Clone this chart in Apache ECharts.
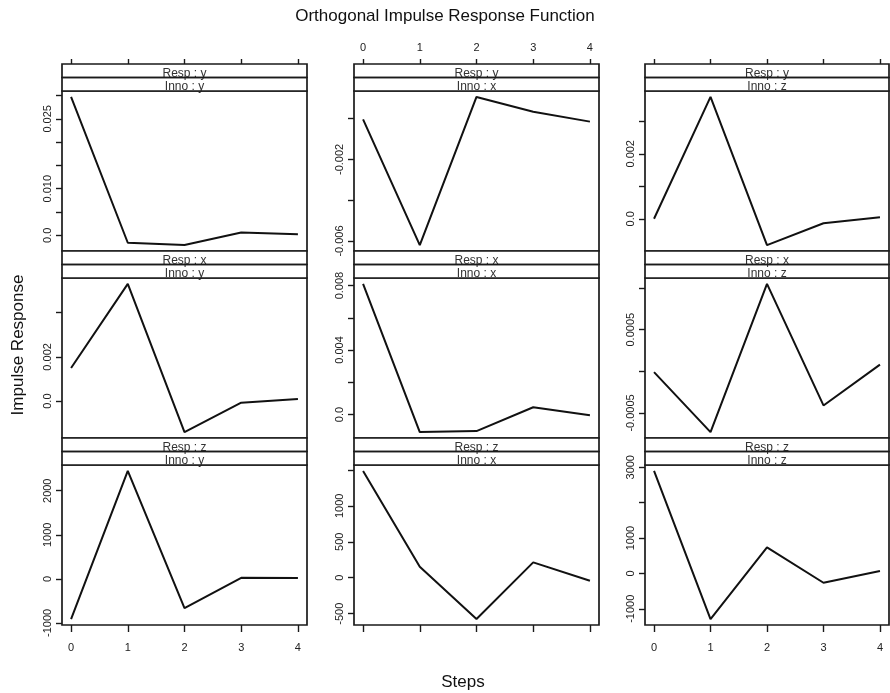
<!DOCTYPE html>
<html>
<head>
<meta charset="utf-8">
<script src="https://cdn.jsdelivr.net/npm/echarts@6/dist/echarts.min.js"></script>
<style>
  html, body { margin: 0; padding: 0; background: #fff; }
  #chart { width: 890px; height: 693px; }
</style>
</head>
<body>
<div id="chart"></div>
<script>
// steps on the x axis
const steps = [0, 1, 2, 3, 4];

// impulse responses, named resp_inno
const yy = [0.0297, -0.0016, -0.0021, 0.0006, 0.0002];
const yx = [-0.00004, -0.0062, 0.00106, 0.00033, -0.00015];
const yz = [0.0, 0.00375, -0.00081, -0.00014, 0.00005];
const xy = [0.0015, 0.0053, -0.0014, -0.00007, 0.0001];
const xx = [0.0081, -0.00109, -0.00103, 0.00045, -0.00004];
const xz = [-0.00001, -0.00073, 0.00105, -0.00041, 0.00008];
const zy = [-913, 2450, -662, 23, 20];
const zx = [1486, 153, -575, 214, -42];
const zz = [2896, -1291, 734, -265, 65];

// y tick marks per panel
const ticksYY = [0, 0.005, 0.01, 0.015, 0.02, 0.025, 0.03];
const ticksYX = [-0.006, -0.004, -0.002, 0];
const ticksYZ = [0, 0.001, 0.002, 0.003];
const ticksXY = [0, 0.002, 0.004];
const ticksXX = [0, 0.002, 0.004, 0.006, 0.008];
const ticksXZ = [-0.0005, 0, 0.0005, 0.001];
const ticksZY = [-1000, 0, 1000, 2000];
const ticksZX = [-500, 0, 500, 1000, 1500];
const ticksZZ = [-1000, 0, 1000, 2000, 3000];

// labelled y ticks and their text
const labValYY = [0, 0.01, 0.025];        const labTxtYY = ["0.0", "0.010", "0.025"];
const labValYX = [-0.006, -0.002];        const labTxtYX = ["-0.006", "-0.002"];
const labValYZ = [0, 0.002];              const labTxtYZ = ["0.0", "0.002"];
const labValXY = [0, 0.002];              const labTxtXY = ["0.0", "0.002"];
const labValXX = [0, 0.004, 0.008];       const labTxtXX = ["0.0", "0.004", "0.008"];
const labValXZ = [-0.0005, 0.0005];       const labTxtXZ = ["-0.0005", "0.0005"];
const labValZY = [-1000, 0, 1000, 2000];  const labTxtZY = ["-1000", "0", "1000", "2000"];
const labValZX = [-500, 0, 500, 1000];    const labTxtZX = ["-500", "0", "500", "1000"];
const labValZZ = [-1000, 0, 1000, 3000];  const labTxtZZ = ["-1000", "0", "1000", "3000"];

const responses = ["y", "x", "z"];
const innovations = ["y", "x", "z"];

const panels = [
  [
    { data: yy, ticks: ticksYY, labVal: labValYY, labTxt: labTxtYY },
    { data: yx, ticks: ticksYX, labVal: labValYX, labTxt: labTxtYX },
    { data: yz, ticks: ticksYZ, labVal: labValYZ, labTxt: labTxtYZ },
  ],
  [
    { data: xy, ticks: ticksXY, labVal: labValXY, labTxt: labTxtXY },
    { data: xx, ticks: ticksXX, labVal: labValXX, labTxt: labTxtXX },
    { data: xz, ticks: ticksXZ, labVal: labValXZ, labTxt: labTxtXZ },
  ],
  [
    { data: zy, ticks: ticksZY, labVal: labValZY, labTxt: labTxtZY },
    { data: zx, ticks: ticksZX, labVal: labValZX, labTxt: labTxtZX },
    { data: zz, ticks: ticksZZ, labVal: labValZZ, labTxt: labTxtZZ },
  ],
];

// layout
const FONT = "'Liberation Sans', Arial, Helvetica, sans-serif";
const colLeft = [62, 354, 645];
const colWidth = [245, 245, 244];
const rowTop = [64, 251, 438];
const stripH = 13.5;
const plotH = 160;
const pad = (v) => v.min - 0.04 * (v.max - v.min);
const padMax = (v) => v.max + 0.04 * (v.max - v.min);

const chart = echarts.init(document.getElementById("chart"));

const grids = [], xAxes = [], yAxes = [], series = [], graphics = [];

for (let r = 0; r < 3; r++) {
  for (let c = 0; c < 3; c++) {
    const p = panels[r][c];
    const idx = grids.length;
    grids.push({
      left: colLeft[c],
      top: rowTop[r] + 2 * stripH,
      width: colWidth[c],
      height: plotH,
      show: true,
      borderColor: "#1a1a1a",
      borderWidth: 1.7,
      backgroundColor: "#fff",
    });

    const isTop = r === 0;
    const isBottom = r === 2;
    const showXLab = (isTop && c === 1) || (isBottom && c !== 1);
    xAxes.push({
      type: "value",
      gridIndex: idx,
      position: isTop ? "top" : "bottom",
      offset: isTop ? 2 * stripH : 0,
      min: pad,
      max: padMax,
      axisLine: { show: false, onZero: false },
      splitLine: { show: false },
      axisTick: {
        show: isTop || isBottom,
        customValues: steps,
        length: isTop ? 5 : 7,
        lineStyle: { color: "#1a1a1a", width: 1.4 },
      },
      axisLabel: {
        show: showXLab,
        customValues: steps,
        margin: isTop ? 11 : 17,
        fontSize: 11,
        fontFamily: FONT,
        color: "#222",
      },
    });

    yAxes.push({
      type: "value",
      gridIndex: idx,
      position: "left",
      min: pad,
      max: padMax,
      scale: true,
      axisLine: { show: false, onZero: false },
      splitLine: { show: false },
      axisTick: {
        show: true,
        customValues: p.ticks,
        length: 6,
        lineStyle: { color: "#1a1a1a", width: 1.4 },
      },
      axisLabel: {
        show: true,
        customValues: p.labVal,
        rotate: 90,
        margin: 9,
        fontSize: 11,
        fontFamily: FONT,
        color: "#222",
        formatter: (v) => {
          const i = p.labVal.indexOf(v);
          return i >= 0 ? p.labTxt[i] : "";
        },
      },
    });

    series.push({
      type: "line",
      xAxisIndex: idx,
      yAxisIndex: idx,
      data: steps.map((s, i) => [s, p.data[i]]),
      showSymbol: false,
      lineStyle: { color: "#111", width: 2 },
      silent: true,
    });

    // strips: Resp on top, Inno below
    const labels = ["Resp : " + responses[r], "Inno : " + innovations[c]];
    for (let k = 0; k < 2; k++) {
      const y0 = rowTop[r] + k * stripH;
      graphics.push({
        type: "rect",
        z: 1,
        shape: { x: colLeft[c], y: y0, width: colWidth[c], height: stripH },
        style: { fill: "#fff", stroke: null },
      });
      graphics.push({
        type: "text",
        z: 2,
        x: colLeft[c] + colWidth[c] / 2,
        y: y0 + stripH / 2 + 2.5,
        style: {
          text: labels[k],
          align: "center",
          verticalAlign: "middle",
          font: "12px " + FONT,
          fill: "#333",
        },
      });
      graphics.push({
        type: "rect",
        z: 3,
        shape: { x: colLeft[c], y: y0, width: colWidth[c], height: stripH },
        style: { fill: null, stroke: "#1a1a1a", lineWidth: 1.7 },
      });
    }
  }
}

graphics.push({
  type: "text",
  x: 18,
  y: 345,
  rotation: Math.PI / 2,
  style: {
    text: "Impulse Response",
    align: "center",
    verticalAlign: "middle",
    font: "17px " + FONT,
    fill: "#111",
  },
});
graphics.push({
  type: "text",
  x: 463,
  y: 682,
  style: {
    text: "Steps",
    align: "center",
    verticalAlign: "middle",
    font: "17px " + FONT,
    fill: "#111",
  },
});

chart.setOption({
  animation: false,
  backgroundColor: "#fff",
  title: {
    text: "Orthogonal Impulse Response Function",
    left: "center",
    top: 3,
    textStyle: { fontSize: 17, fontWeight: "normal", fontFamily: FONT, color: "#111" },
  },
  grid: grids,
  xAxis: xAxes,
  yAxis: yAxes,
  series: series,
  graphic: graphics,
});
</script>
</body>
</html>
